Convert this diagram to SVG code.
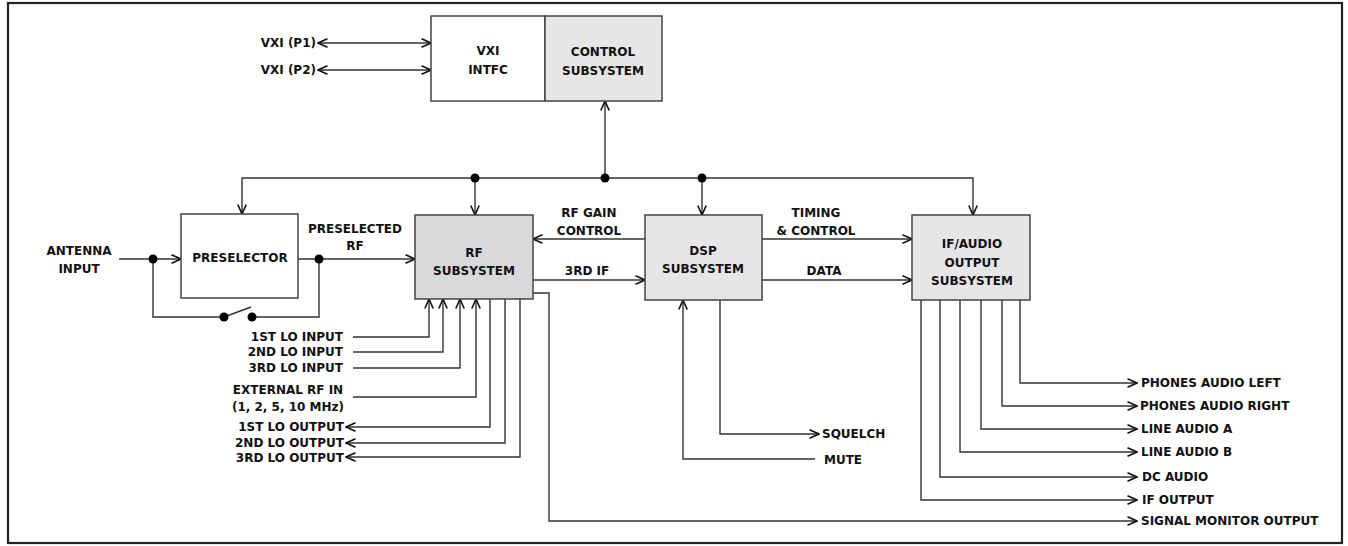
<svg xmlns="http://www.w3.org/2000/svg" width="1348" height="546" viewBox="0 0 1348 546">
<style>
text{font-family:"DejaVu Sans","Liberation Sans",sans-serif;font-weight:bold;font-size:12px;fill:#111}
.c{text-anchor:middle}
.e{text-anchor:end}
.box{stroke:#444;stroke-width:1.5}
.ln{fill:none;stroke:#333;stroke-width:1.4}
.arr{marker-end:url(#ah)}
.bi{marker-start:url(#ah);marker-end:url(#ah)}
.dot{fill:#000}
</style>
<defs>
<marker id="ah" markerUnits="userSpaceOnUse" markerWidth="12" markerHeight="12" viewBox="0 0 12 12" refX="11" refY="6" orient="auto-start-reverse">
<path d="M1.5,1.8 L11,6 L1.5,10.2" fill="none" stroke="#111" stroke-width="1.6"/>
</marker>
</defs>
<rect x="8" y="3" width="1334" height="540" fill="#fff" stroke="#222" stroke-width="2.2"/>

<g id="connectors">
<path class="ln bi" d="M318,43 H431"/>
<path class="ln bi" d="M318,70 H431"/>
<path class="ln arr" d="M605,178 V101"/>
<path class="ln arr" d="M605,178 H242 V214"/>
<path class="ln arr" d="M605,178 H973 V215"/>
<path class="ln arr" d="M475,178 V215"/>
<path class="ln arr" d="M702,178 V215"/>
<path class="ln arr" d="M119,259 H181"/>
<path class="ln" d="M153,259 V317 H224"/>
<path class="ln" d="M252,317 H319 V259"/>
<path class="ln" d="M224,317 L251,307"/>
<path class="ln arr" d="M298,259 H415"/>
<path class="ln arr" d="M645,239 H533"/>
<path class="ln arr" d="M533,280 H645"/>
<path class="ln arr" d="M762,239 H912"/>
<path class="ln arr" d="M762,280 H912"/>
<path class="ln arr" d="M353,337 H429 V299"/>
<path class="ln arr" d="M353,352 H443 V299"/>
<path class="ln arr" d="M353,368 H460 V299"/>
<path class="ln arr" d="M353,397 H476 V299"/>
<path class="ln arr" d="M490,299 V427 H346"/>
<path class="ln arr" d="M505,299 V443 H346"/>
<path class="ln arr" d="M520,299 V457 H346"/>
<path class="ln arr" d="M533,293 H549 V521 H1137"/>
<path class="ln arr" d="M815,459 H683 V300"/>
<path class="ln arr" d="M720,300 V434 H819"/>
<path class="ln arr" d="M1020,300 V383 H1137"/>
<path class="ln arr" d="M1002,300 V406 H1137"/>
<path class="ln arr" d="M981,300 V429 H1137"/>
<path class="ln arr" d="M960,300 V452 H1137"/>
<path class="ln arr" d="M940,300 V477 H1137"/>
<path class="ln arr" d="M921,300 V500 H1137"/>
<circle class="dot" cx="605" cy="178" r="4.5"/>
<circle class="dot" cx="475" cy="178" r="4.5"/>
<circle class="dot" cx="702" cy="178" r="4.5"/>
<circle class="dot" cx="153" cy="259" r="4.5"/>
<circle class="dot" cx="319" cy="259" r="4.5"/>
<circle class="dot" cx="224" cy="317" r="4.5"/>
<circle class="dot" cx="252" cy="317" r="4.5"/>
</g>

<g id="vxi-intfc">
<rect class="box" x="431" y="16" width="114" height="85" fill="#fff"/>
<text class="c" x="488" y="55">VXI</text>
<text class="c" x="488" y="74">INTFC</text>
</g>
<g id="control-subsystem">
<rect class="box" x="545" y="16" width="117" height="85" fill="#e6e6e6"/>
<text class="c" x="603" y="56">CONTROL</text>
<text class="c" x="603" y="75">SUBSYSTEM</text>
</g>
<g id="preselector">
<rect class="box" x="181" y="214" width="117" height="84" fill="#fff"/>
<text class="c" x="240" y="262">PRESELECTOR</text>
</g>
<g id="rf-subsystem">
<rect class="box" x="415" y="215" width="118" height="84" fill="#d9d9d9"/>
<text class="c" x="474" y="257">RF</text>
<text class="c" x="474" y="275">SUBSYSTEM</text>
</g>
<g id="dsp-subsystem">
<rect class="box" x="645" y="215" width="117" height="85" fill="#e6e6e6"/>
<text class="c" x="703" y="255">DSP</text>
<text class="c" x="703" y="273">SUBSYSTEM</text>
</g>
<g id="if-audio-subsystem">
<rect class="box" x="912" y="215" width="118" height="85" fill="#e6e6e6"/>
<text class="c" x="972" y="248">IF/AUDIO</text>
<text class="c" x="972" y="267">OUTPUT</text>
<text class="c" x="972" y="285">SUBSYSTEM</text>
</g>

<g id="labels">
<text class="e" x="316" y="47">VXI (P1)</text>
<text class="e" x="316" y="74">VXI (P2)</text>
<text class="c" x="79" y="255">ANTENNA</text>
<text class="c" x="79" y="273">INPUT</text>
<text class="c" x="355" y="233">PRESELECTED</text>
<text class="c" x="355" y="250">RF</text>
<text class="c" x="589" y="217">RF GAIN</text>
<text class="c" x="589" y="235">CONTROL</text>
<text class="c" x="587" y="275">3RD IF</text>
<text class="c" x="816" y="217">TIMING</text>
<text class="c" x="816" y="235">&amp; CONTROL</text>
<text class="c" x="824" y="275">DATA</text>
<text class="e" x="343" y="341">1ST LO INPUT</text>
<text class="e" x="343" y="356">2ND LO INPUT</text>
<text class="e" x="343" y="372">3RD LO INPUT</text>
<text class="c" x="288" y="394">EXTERNAL RF IN</text>
<text class="c" x="288" y="411">(1, 2, 5, 10 MHz)</text>
<text class="e" x="344" y="431">1ST LO OUTPUT</text>
<text class="e" x="344" y="447">2ND LO OUTPUT</text>
<text class="e" x="344" y="462">3RD LO OUTPUT</text>
<text x="822" y="438">SQUELCH</text>
<text x="824" y="464">MUTE</text>
<text x="1141" y="387">PHONES AUDIO LEFT</text>
<text x="1140" y="410">PHONES AUDIO RIGHT</text>
<text x="1141" y="433">LINE AUDIO A</text>
<text x="1141" y="456">LINE AUDIO B</text>
<text x="1142" y="481">DC AUDIO</text>
<text x="1142" y="504">IF OUTPUT</text>
<text x="1141" y="525">SIGNAL MONITOR OUTPUT</text>
</g>
</svg>
